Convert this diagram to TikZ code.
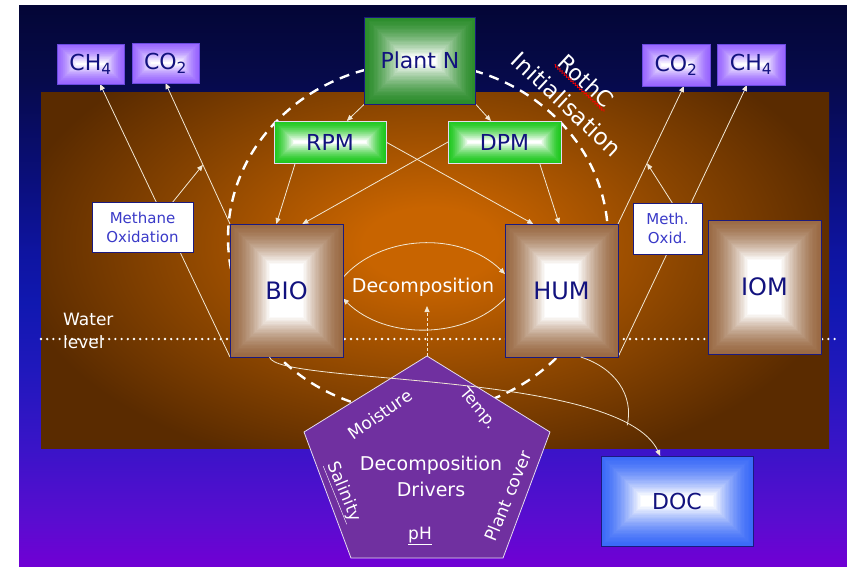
\documentclass[tikz,border=0pt]{standalone}
\usepackage{fontspec}
\setmainfont{DejaVu Sans}
\usetikzlibrary{calc,arrows.meta,decorations.pathmorphing}
\definecolor{bgA}{HTML}{7000D4}
\definecolor{bgB}{HTML}{5A0CD0}
\definecolor{bgC}{HTML}{3A14C8}
\definecolor{bgD}{HTML}{2018BC}
\definecolor{bgE}{HTML}{1018B0}
\definecolor{bgF}{HTML}{0E14A0}
\definecolor{bgG}{HTML}{0A0E78}
\definecolor{bgH}{HTML}{060A4A}
\definecolor{bgI}{HTML}{040636}
\definecolor{soilin}{HTML}{C86400}
\definecolor{soilmid}{HTML}{8C4600}
\definecolor{soilout}{HTML}{5A2B00}
\definecolor{lav}{HTML}{9966FF}
\definecolor{lavline}{HTML}{6A4AE0}
\definecolor{pgreen}{HTML}{2A8C2A}
\definecolor{bgreen}{HTML}{1EC81E}
\definecolor{brownbox}{HTML}{9A6A44}
\definecolor{docblue}{HTML}{3A6AF8}
\definecolor{boxline}{HTML}{1A1A80}
\definecolor{labtxt}{HTML}{12127E}
\definecolor{moxtxt}{HTML}{3A3AC8}
\definecolor{conncol}{HTML}{F2E8D5}
\definecolor{pent}{HTML}{7030A0}
\definecolor{pentline}{HTML}{E6DCF0}
\pgfdeclareverticalshading{bgshade}{100bp}{color(0bp)=(bgA); color(25bp)=(bgA); color(29bp)=(bgB); color(35.5bp)=(bgC); color(42.5bp)=(bgD); color(48.5bp)=(bgE); color(53bp)=(bgF); color(60bp)=(bgG); color(68.5bp)=(bgH); color(75bp)=(bgI); color(100bp)=(bgI)}
\pgfdeclareradialshading{soil}{\pgfpoint{0bp}{0bp}}{color(0bp)=(soilin); color(4bp)=(soilin); color(15bp)=(soilmid); color(25bp)=(soilout); color(50bp)=(soilout)}
\pgfdeclarelayer{bg}
\pgfdeclarelayer{conn}
\pgfdeclarelayer{front}
\pgfsetlayers{bg,conn,main,front}
\newcommand\myfs[2]{\fontsize{#1}{#2}\selectfont}
\begin{document}
\begin{tikzpicture}[x=1pt,y=-1pt,
  gbox/.style={inner sep=0pt, outer sep=0pt, text=labtxt, line width=0.9pt,
    path picture={
      \foreach \gk in {0,...,30}{
        \pgfmathtruncatemacro\gpc{100*(1-(\gk/30)^1.5)}
        \path[fill=#1!\gpc!white] let \p1=(path picture bounding box.south west), \p2=(path picture bounding box.north east), \n1={min(0.48*(\x2-\x1),0.48*(\y2-\y1),40)*\gk/30} in ({\x1+\n1},{\y1+\n1}) rectangle ({\x2-\n1},{\y2-\n1});
      }
    }},
  oxbox/.style={draw=boxline, fill=white, line width=0.9pt, inner sep=0pt, outer sep=0pt, align=center, text=moxtxt, font=\myfs{15}{19}},
  conn/.style={draw=conncol, line width=0.8pt, -{Triangle[width=5pt,length=6pt]}},
  connline/.style={draw=conncol, line width=0.8pt},
  lbl/.style={text=white, inner sep=1pt}
]
\useasboundingbox (0,0) rectangle (847,566);

\begin{pgfonlayer}{bg}
\fill[white] (0,0) rectangle (847,566);
\shade[shading=bgshade] (19,5) rectangle (847,566);
\begin{scope}
\clip (41,92) rectangle (829,448);
\shade[shading=soil] (10,10) rectangle (850,480);
\end{scope}
\draw[white, line width=2.4pt, dash pattern=on 10pt off 7pt] (418,238) ellipse [x radius=190pt, y radius=175pt];
\draw[white, line width=2.6pt, line cap=round, dash pattern=on 0pt off 6.2pt] (41,339) -- (838,339);
\end{pgfonlayer}

% boxes
\node[gbox=lav, draw=lavline, minimum width=67pt, minimum height=40pt, font=\myfs{22}{26}] (ch4L) at (90.5,64) {CH\textsubscript{4}};
\node[gbox=lav, draw=lavline, minimum width=67pt, minimum height=40pt, font=\myfs{22}{26}] (co2L) at (165.5,63) {CO\textsubscript{2}};
\node[gbox=lav, draw=lavline, minimum width=68pt, minimum height=42pt, font=\myfs{22}{26}] (co2R) at (676,65) {CO\textsubscript{2}};
\node[gbox=lav, draw=lavline, minimum width=68pt, minimum height=41pt, font=\myfs{22}{26}] (ch4R) at (751,64.5) {CH\textsubscript{4}};
\node[gbox=pgreen, draw=boxline, minimum width=111pt, minimum height=87pt, font=\myfs{22}{26}] (plantn) at (420,60.5) {Plant N};
\node[gbox=bgreen, draw=pentline, minimum width=112pt, minimum height=42pt, font=\myfs{22}{26}] (rpm) at (330,142) {RPM};
\node[gbox=bgreen, draw=pentline, minimum width=113pt, minimum height=42pt, font=\myfs{22}{26}] (dpm) at (504.5,142) {DPM};
\node[gbox=brownbox, draw=boxline, minimum width=113pt, minimum height=133pt, font=\myfs{24}{28}] (bio) at (286.5,290.5) {BIO};
\node[gbox=brownbox, draw=boxline, minimum width=113pt, minimum height=133pt, font=\myfs{24}{28}] (hum) at (561.5,290.5) {HUM};
\node[gbox=brownbox, draw=boxline, minimum width=113pt, minimum height=134pt, font=\myfs{24}{28}] (iom) at (764.5,287) {IOM};
\node[gbox=docblue, draw=boxline, minimum width=152pt, minimum height=90pt, font=\myfs{22}{26}] (doc) at (677,501) {DOC};
\node[oxbox, minimum width=101pt, minimum height=50pt] (mox) at (142.5,227) {Methane\\Oxidation};
\node[oxbox, minimum width=69pt, minimum height=51pt] (moxR) at (667.5,228.5) {Meth.\\Oxid.};

% connectors behind boxes
\begin{pgfonlayer}{conn}
\draw[conn] (plantn.south west) -- ($(rpm.north west)!0.65!(rpm.north east)$);
\draw[conn] (plantn.south east) -- ($(dpm.north west)!0.38!(dpm.north east)$);
\draw[conn] ($(rpm.south west)!0.19!(rpm.south east)$) -- ($(bio.north west)!0.41!(bio.north east)$);
\draw[conn] (dpm.west) -- ($(bio.north west)!0.64!(bio.north east)$);
\draw[conn] (rpm.east) -- ($(hum.north west)!0.25!(hum.north east)$);
\draw[conn] ($(dpm.south west)!0.81!(dpm.south east)$) -- ($(hum.north west)!0.48!(hum.north east)$);
\draw[conn] ($(bio.east)+(0,-13)$) .. controls (380,235) and (460,230) .. ($(hum.west)+(0,-16.5)$);
\draw[conn] ($(hum.west)+(0,8)$) .. controls (465,340) and (385,340) .. ($(bio.east)+(0,8)$);
\draw[conn] (bio.south west) -- (ch4L);
\draw[conn] (bio.north west) -- (co2L.south) coordinate[pos=0.42] (co2mid);
\draw[conn] ($(mox.north east)!0.2!(mox.north west)$) -- (co2mid);
\draw[conn] (hum.north east) -- ($(co2R.south)+(8,0)$) coordinate[pos=0.44] (co2Rmid);
\draw[conn] ($(moxR.north west)!0.57!(moxR.north east)$) -- (co2Rmid);
\draw[conn] (hum.south east) -- ($(ch4R.south)+(-4,0)$);
\end{pgfonlayer}

% decomposition drivers pentagon
\coordinate (drv) at (427,356);
\coordinate (dtip) at (427,306);
\filldraw[fill=pent, draw=pentline, line width=0.8pt] (drv) -- (550,432) -- (503,558) -- (351,558) -- (304,432) -- cycle;
\node[lbl, align=center, font=\myfs{19}{26}] (drivers) at (431,476) {Decomposition\\Drivers};
\node[lbl, rotate=35, font=\myfs{17}{20}] (moist) at (380,414) {Moisture};
\node[lbl, rotate=-50, font=\myfs{16}{20}] (temp) at (478,409) {Temp.};
\node[lbl, rotate=68, font=\myfs{17}{20}] (pcover) at (508,496) {Plant cover};
\node[lbl, rotate=-68, font=\myfs{17}{20}] (salin) at (343,492) {\underline{Salinity}};
\node[lbl, font=\myfs{17}{20}] (ph) at (420,536) {\underline{pH}};

% other labels
\node[lbl, font=\myfs{19}{22}] (decomp) at (423,287) {Decomposition};
\node[lbl, anchor=north west, inner sep=0pt, align=left, font=\myfs{17}{23}] (water) at (63,313) {Water\\level};
\node[lbl, rotate=-43, font=\myfs{22}{24}] (rothc) at (586,81) {RothC};
\node[lbl, rotate=-43, font=\myfs{23}{24}] (init) at (567,104) {Initialisation};
\draw[red, line width=0.7pt, decorate, decoration={zigzag, amplitude=1.1pt, segment length=3pt}] (rothc.south west) -- (rothc.south east);

\begin{pgfonlayer}{front}
\draw[conn] ($(bio.south west)!0.35!(bio.south east)$) .. controls (275,385) and (620,370) .. ($(doc.north west)!0.39!(doc.north east)$) coordinate[pos=0.86] (join);
\draw[connline] ($(hum.south west)!0.67!(hum.south east)$) .. controls (615,368) and (634,395) .. (join);
\draw[conn, dash pattern=on 3pt off 2pt] (drv) -- (dtip);
\end{pgfonlayer}
\end{tikzpicture}
\end{document}
